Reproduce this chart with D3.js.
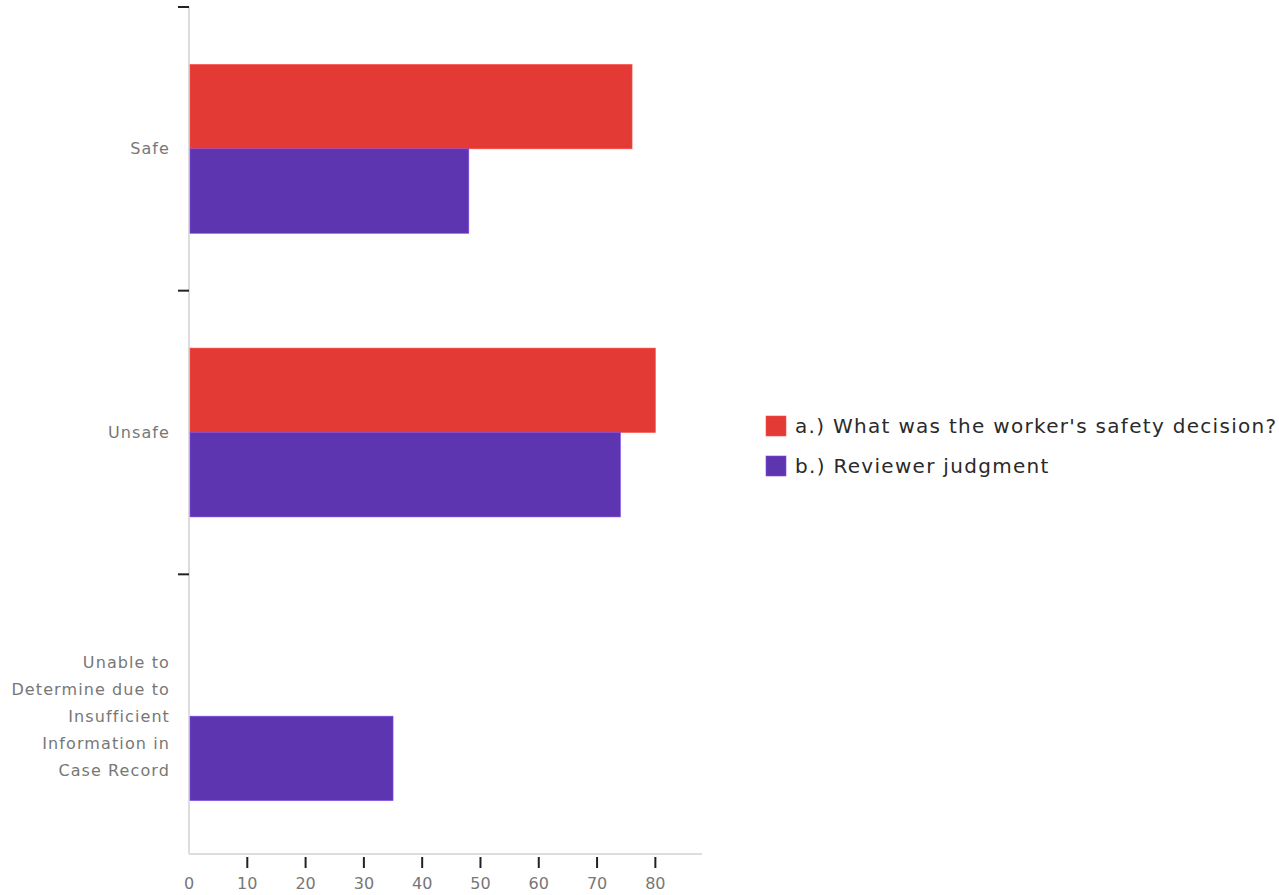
<!DOCTYPE html>
<html><head><meta charset="utf-8">
<script src="https://cdn.jsdelivr.net/npm/d3@7"></script>
<style>body{margin:0;background:#fff;font-family:"DejaVu Sans",sans-serif;}</style>
</head><body><svg id="c" width="1279" height="895"></svg>
<script>
const categories = ["Safe", "Unsafe", "Unable to Determine due to Insufficient Information in Case Record"];
const categoryLines = [["Safe"], ["Unsafe"], ["Unable to", "Determine due to", "Insufficient", "Information in", "Case Record"]];
const seriesNames = ["a.) What was the worker's safety decision?", "b.) Reviewer judgment"];
const seriesA = [76, 80, 0];
const seriesB = [48, 74, 35];
const xTicks = [0, 10, 20, 30, 40, 50, 60, 70, 80];
const colors = ["#e43a36", "#5e35b1"];

const svg = d3.select("#c");
const x = d3.scaleLinear().domain([0, 88]).range([189, 702]);
const y = d3.scaleBand().domain(categories).range([7, 858]);
const y1 = d3.scaleBand().domain(seriesNames).range([0, y.bandwidth()]).paddingOuter(0.68);
const data = categories.map((c, i) => ({cat: c, vals: [seriesA[i], seriesB[i]]}));

// axis lines
svg.append("line").attr("x1", 189).attr("x2", 189).attr("y1", 7).attr("y2", 854).attr("stroke", "#ddd").attr("stroke-width", 2);
svg.append("line").attr("x1", 189).attr("x2", 702).attr("y1", 854).attr("y2", 854).attr("stroke", "#ddd").attr("stroke-width", 2);

// bars
const g = svg.append("g");
data.forEach(d => {
  d.vals.forEach((v, j) => {
    if (v <= 0) return;
    g.append("rect")
      .attr("x", x(0) + 1).attr("y", y(d.cat) + y1(seriesNames[j]))
      .attr("width", x(v) - x(0) - 1).attr("height", y1.bandwidth())
      .attr("fill", colors[j]).attr("stroke", d3.color(colors[j]).brighter(0.8)).attr("stroke-width", 0.6);
  });
});

// y ticks
categories.forEach(c => {
  svg.append("line").attr("x1", 178).attr("x2", 189).attr("y1", y(c)).attr("y2", y(c)).attr("stroke", "#222").attr("stroke-width", 2);
});
// y labels
categories.forEach((c, i) => {
  const lines = categoryLines[i];
  const cy = y(c) + y.bandwidth() / 2;
  const lh = 27;
  const t = svg.append("text").attr("text-anchor", "end").attr("fill", "#777").attr("font-size", 16).attr("letter-spacing", "1.1px");
  lines.forEach((l, k) => {
    t.append("tspan").attr("x", 170).attr("y", cy + (k - (lines.length - 1) / 2) * lh).attr("dy", "0.35em").text(l);
  });
});

// x ticks
xTicks.forEach(v => {
  if (v > 0) svg.append("line").attr("x1", x(v)).attr("x2", x(v)).attr("y1", 857).attr("y2", 868).attr("stroke", "#222").attr("stroke-width", 2);
  svg.append("text").attr("x", x(v)).attr("y", 883).attr("dy", "0.35em").attr("text-anchor", "middle").attr("fill", "#777").attr("font-size", 16).text(v);
});

// legend
seriesNames.forEach((s, i) => {
  const ly = 416 + i * 40;
  svg.append("rect").attr("x", 766).attr("y", ly).attr("width", 20).attr("height", 20).attr("fill", colors[i]).attr("stroke", d3.color(colors[i]).brighter(0.8)).attr("stroke-width", 0.6);
  svg.append("text").attr("x", 795).attr("y", ly + 10).attr("dy", "0.35em").attr("fill", "#2a2a2a").attr("font-size", 20).attr("letter-spacing", "1.3px").text(s);
});
</script></body></html>
